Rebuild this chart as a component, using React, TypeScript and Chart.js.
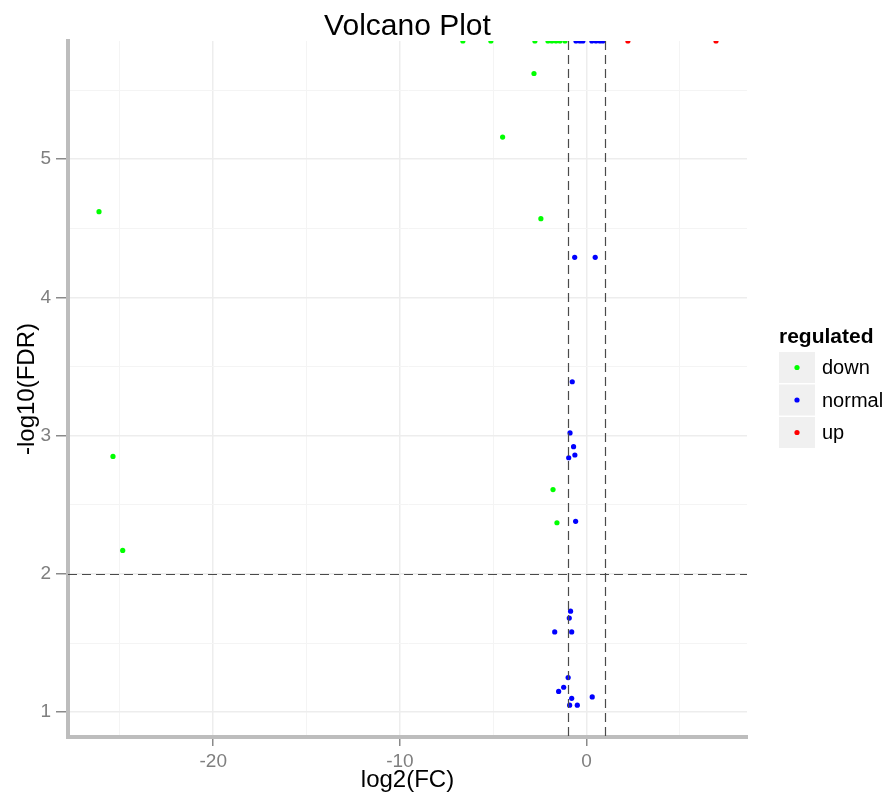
import { useEffect, useRef } from 'react';
import { Chart, registerables } from 'chart.js';

Chart.register(...registerables);

// ---- data (log2 fold change, -log10 FDR) ----
const TOP = 5.855; // points sitting on the top edge of the panel

const downX = [-6.63, -5.13, -2.77, -2.07, -1.86, -1.64, -1.43, -1.16, -26.12, -25.37, -24.85, -2.82, -4.5, -2.45, -1.8, -1.59];
const downY = [TOP, TOP, TOP, TOP, TOP, TOP, TOP, TOP, 4.62, 2.85, 2.17, 5.62, 5.16, 4.57, 2.61, 2.37];

const normalX = [-0.57, -0.36, -0.2, 0.28, 0.5, 0.71, 0.87, -0.64, 0.46, -0.77, -0.89, -0.7, -0.96, -0.63, -0.59, -0.86, -0.93, -1.71, -0.8, -0.99, -1.23, -1.5, -0.8, 0.3, -0.91, -0.5];
const normalY = [TOP, TOP, TOP, TOP, TOP, TOP, TOP, 4.29, 4.29, 3.39, 3.02, 2.92, 2.84, 2.86, 2.38, 1.73, 1.68, 1.58, 1.58, 1.25, 1.18, 1.15, 1.1, 1.11, 1.05, 1.05];

const upX = [2.21, 6.93];
const upY = [TOP, TOP];

const SERIES_LABELS = ['down', 'normal', 'up'];
const SERIES_COLORS = ['#00ff00', '#0000ff', '#ff0000'];

const X_TICKS = [-25, -20, -15, -10, -5, 0, 5];
const X_LABELED = [-20, -10, 0];
const Y_TICKS = [1, 1.5, 2, 2.5, 3, 3.5, 4, 4.5, 5, 5.5];
const Y_LABELED = [1, 2, 3, 4, 5];

const FC_THRESHOLDS = [-1, 1];
const FDR_THRESHOLD = 2;

const X_MIN = -27.78;
const X_MAX = 8.59;
const Y_MIN = 0.82;
const Y_MAX = 5.855;

const FONT = "'Liberation Sans', Arial, Helvetica, sans-serif";

function toPoints(xs: number[], ys: number[]) {
  return xs.map((x, i) => ({ x, y: ys[i] }));
}

const thresholdPlugin = {
  id: 'thresholdLines',
  afterDatasetsDraw(chart: any) {
    const { ctx, chartArea, scales } = chart;
    const x = scales.x;
    const y = scales.y;
    ctx.save();
    ctx.strokeStyle = '#4a4a4a';
    ctx.lineWidth = 1.2;
    ctx.setLineDash([9, 5]);
    for (const v of FC_THRESHOLDS) {
      const px = Math.round(x.getPixelForValue(v)) + 0.5;
      ctx.beginPath();
      ctx.moveTo(px, chartArea.top);
      ctx.lineTo(px, chartArea.bottom);
      ctx.stroke();
    }
    const py = Math.round(y.getPixelForValue(FDR_THRESHOLD)) + 0.5;
    ctx.beginPath();
    ctx.moveTo(chartArea.left, py);
    ctx.lineTo(chartArea.right, py);
    ctx.stroke();
    ctx.restore();
  },
};

const legendPlugin = {
  id: 'ggLegend',
  afterDraw(chart: any) {
    const { ctx, chartArea } = chart;
    const left = chartArea.right + 32;
    const midY = (chartArea.top + chartArea.bottom) / 2;
    ctx.save();
    ctx.fillStyle = '#000';
    ctx.font = `bold 21px ${FONT}`;
    ctx.textBaseline = 'middle';
    ctx.textAlign = 'left';
    ctx.fillText('regulated', left, midY - 52);
    const keyW = 36;
    const keyH = 31;
    const step = 32.5;
    const top0 = midY - 37;
    chart.data.datasets.forEach((ds: any, i: number) => {
      const top = top0 + i * step;
      ctx.fillStyle = '#f0f0f0';
      ctx.fillRect(left, top, keyW, keyH);
      ctx.fillStyle = ds.backgroundColor;
      ctx.beginPath();
      ctx.arc(left + keyW / 2, top + keyH / 2, 2.6, 0, Math.PI * 2);
      ctx.fill();
      ctx.fillStyle = '#000';
      ctx.font = `20px ${FONT}`;
      ctx.fillText(ds.label, left + keyW + 7, top + keyH / 2 + 1);
    });
    ctx.restore();
  },
};

export default function App() {
  const canvasRef = useRef<HTMLCanvasElement | null>(null);

  useEffect(() => {
    if (!canvasRef.current) return;
    const seriesX = [downX, normalX, upX];
    const seriesY = [downY, normalY, upY];
    const chart = new Chart(canvasRef.current, {
      type: 'scatter',
      data: {
        datasets: SERIES_LABELS.map((label, i) => ({
          label,
          data: toPoints(seriesX[i], seriesY[i]),
          backgroundColor: SERIES_COLORS[i],
          borderColor: SERIES_COLORS[i],
          pointRadius: 2.6,
          pointBorderWidth: 0,
          pointHoverRadius: 2.6,
          clip: 0,
        })),
      },
      options: {
        animation: false,
        responsive: true,
        maintainAspectRatio: false,
        events: [],
        layout: { padding: { left: 0, right: 141, top: 0, bottom: 0 } },
        plugins: {
          legend: { display: false },
          tooltip: { enabled: false },
          title: {
            display: true,
            text: 'Volcano Plot',
            fullSize: false,
            color: '#000',
            font: { family: FONT, size: 30, weight: 'normal', lineHeight: 0.95 },
            padding: { top: 12, bottom: 0.5 },
          },
        },
        scales: {
          x: {
            type: 'linear',
            min: X_MIN,
            max: X_MAX,
            afterBuildTicks: (scale: any) => {
              scale.ticks = X_TICKS.map((v) => ({ value: v }));
            },
            afterFit: (scale: any) => {
              scale.height = 55;
            },
            ticks: {
              autoSkip: false,
              maxRotation: 0,
              padding: 4,
              color: '#7f7f7f',
              font: { family: FONT, size: 19 },
              callback: (v: any) => (X_LABELED.includes(Number(v)) ? String(v) : ''),
            },
            grid: {
              color: (c: any) => (X_LABELED.includes(c.tick?.value) ? '#ededed' : '#f4f4f4'),
              lineWidth: (c: any) => (X_LABELED.includes(c.tick?.value) ? 1.5 : 1),
              tickColor: (c: any) => (X_LABELED.includes(c.tick?.value) ? '#8a8a8a' : 'rgba(0,0,0,0)'),
              tickLength: 9,
              tickWidth: 1.5,
            },
            border: { display: true, color: '#bdbdbd', width: 4 },
            title: {
              display: true,
              text: 'log2(FC)',
              color: '#000',
              font: { family: FONT, size: 24, lineHeight: 1 },
              padding: { top: 0, bottom: 0 },
            },
          },
          y: {
            type: 'linear',
            min: Y_MIN,
            max: Y_MAX,
            afterBuildTicks: (scale: any) => {
              scale.ticks = Y_TICKS.map((v) => ({ value: v }));
            },
            afterFit: (scale: any) => {
              scale.width = 68;
            },
            ticks: {
              autoSkip: false,
              padding: 5,
              color: '#7f7f7f',
              font: { family: FONT, size: 19 },
              callback: (v: any) => (Y_LABELED.includes(Number(v)) ? String(v) : ''),
            },
            grid: {
              color: (c: any) => (Y_LABELED.includes(c.tick?.value) ? '#ededed' : '#f4f4f4'),
              lineWidth: (c: any) => (Y_LABELED.includes(c.tick?.value) ? 1.5 : 1),
              tickColor: (c: any) => (Y_LABELED.includes(c.tick?.value) ? '#8a8a8a' : 'rgba(0,0,0,0)'),
              tickLength: 12,
              tickWidth: 1.5,
            },
            border: { display: true, color: '#bdbdbd', width: 4 },
            title: {
              display: true,
              text: '-log10(FDR)',
              color: '#000',
              font: { family: FONT, size: 24 },
              padding: { top: 13, bottom: 0 },
            },
          },
        },
      },
      plugins: [thresholdPlugin, legendPlugin],
    } as any);
    return () => chart.destroy();
  }, []);

  return (
    <div style={{ position: 'fixed', left: 0, top: 0, width: 888, height: 792, background: '#fff' }}>
      <canvas ref={canvasRef} />
    </div>
  );
}
